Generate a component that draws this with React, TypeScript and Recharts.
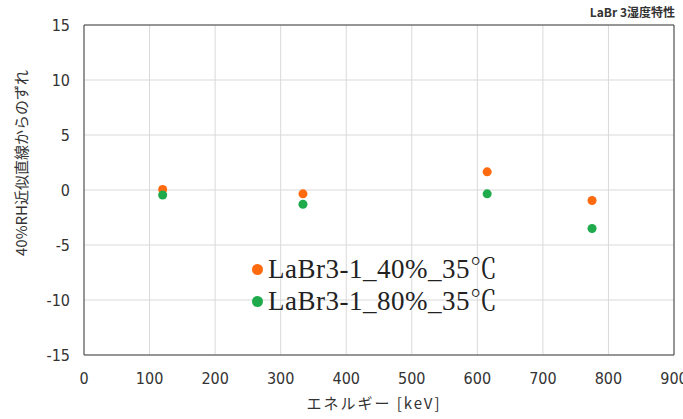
import {
    ScatterChart, Scatter, XAxis, YAxis, ZAxis, CartesianGrid, ReferenceArea,
} from "recharts";

const ENERGY_KEV = [120, 334, 615, 775];
const DEV_40 = [0.05, -0.35, 1.65, -0.95];
const DEV_80 = [-0.45, -1.3, -0.35, -3.5];
const X_TICKS = [0, 100, 200, 300, 400, 500, 600, 700, 800, 900];
const Y_TICKS = [-15, -10, -5, 0, 5, 10, 15];

const SERIES = [
    { name: "LaBr3-1_40%_35℃", values: DEV_40, color: "#ff6a0e" },
    { name: "LaBr3-1_80%_35℃", values: DEV_80, color: "#1fab4b" },
];

const TICK_FONT = '"Liberation Sans Narrow", "DejaVu Sans Condensed", sans-serif';
const JP_FONT = '"Noto Sans CJK JP", sans-serif';

function LegendBox() {
    return (
        <div style={{
            position: "absolute", left: 252, top: 253,
            fontFamily: '"Liberation Serif", "Noto Serif CJK JP", serif', fontSize: 27, color: "#222",
        }}>
            {SERIES.map((s) => (
                <div key={s.name} style={{ display: "flex", alignItems: "center", height: 32 }}>
                    <span style={{ width: 11, height: 11, borderRadius: "50%", background: s.color, marginRight: 5 }} />
                    <span style={{ whiteSpace: "nowrap", lineHeight: "32px", letterSpacing: 0.5 }}>{s.name}</span>
                </div>
            ))}
        </div>
    );
}

export default function App() {
    const data = SERIES.map((s) => ENERGY_KEV.map((x, i) => ({ x, y: s.values[i] })));

    return (
        <div style={{ position: "absolute", left: 0, top: 0, width: 683, height: 419, background: "#fff" }}>
            <ScatterChart width={683} height={419} margin={{ top: 25, right: 9, left: 0, bottom: 0 }}>
                <CartesianGrid stroke="#d9d9d9" horizontalValues={Y_TICKS} verticalValues={X_TICKS} />
                <XAxis type="number" dataKey="x" domain={[0, 900]} ticks={X_TICKS} height={64}
                    tickLine={false} axisLine={false} tickMargin={12} interval={0}
                    tick={{ fontSize: 16, fill: "#333", fontFamily: TICK_FONT }} />
                <YAxis type="number" dataKey="y" domain={[-15, 15]} ticks={Y_TICKS} width={84}
                    tickLine={false} axisLine={false} tickMargin={8} interval={0}
                    tick={{ fontSize: 16, fill: "#333", fontFamily: TICK_FONT }} />
                <ZAxis range={[100, 100]} />
                <ReferenceArea x1={0} x2={900} y1={-15} y2={15} fill="none" stroke="#404040" strokeWidth={1} />
                {SERIES.map((s, i) => (
                    <Scatter key={s.name} name={s.name} data={data[i]} fill={s.color}
                        shape="circle" isAnimationActive={false} />
                ))}
                <text x={675} y={17} textAnchor="end" fontSize={12} fontWeight="bold" fill="#333" fontFamily={JP_FONT}>
                    LaBr 3湿度特性
                </text>
                <text x={374} y={409} textAnchor="middle" fontSize={15} fill="#333" fontFamily={JP_FONT} letterSpacing={2}>
                    エネルギー [keV]
                </text>
                <text x={0} y={0} transform="translate(27,163) rotate(-90)" textAnchor="middle" fontSize={15}
                    fill="#333" fontFamily={JP_FONT}>
                    40%RH近似直線からのずれ
                </text>
            </ScatterChart>
            <LegendBox />
        </div>
    );
}
